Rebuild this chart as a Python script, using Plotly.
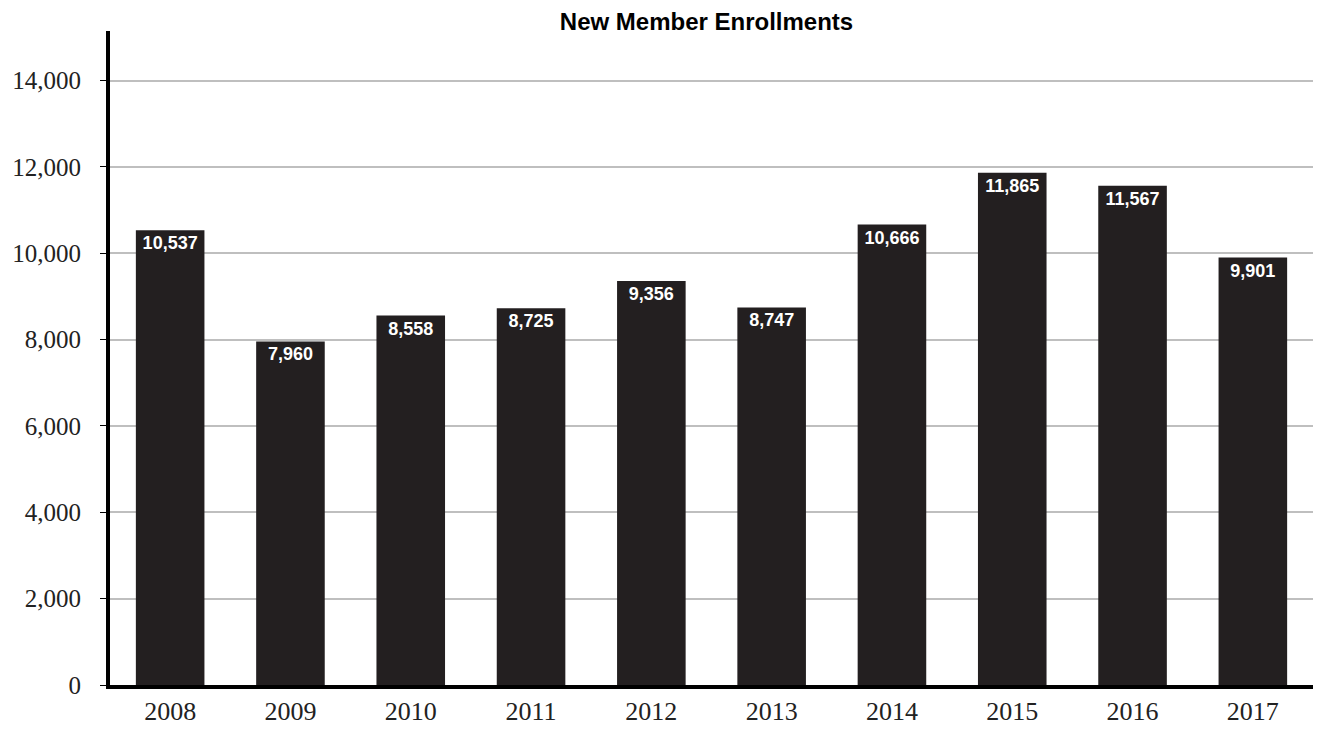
import plotly.graph_objects as go

years = ["2008", "2009", "2010", "2011", "2012", "2013", "2014", "2015", "2016", "2017"]
enrollments = [10537, 7960, 8558, 8725, 9356, 8747, 10666, 11865, 11567, 9901]
tick_vals = [0, 2000, 4000, 6000, 8000, 10000, 12000, 14000]
tick_text = ["0", "2,000", "4,000", "6,000", "8,000", "10,000", "12,000", "14,000"]

fig = go.Figure()
fig.add_trace(go.Bar(
    x=years, y=enrollments,
    marker=dict(color="#231f20", line=dict(width=0)),
    text=[f"{v:,}" for v in enrollments],
    textposition="inside", insidetextanchor="end",
    textangle=0,
    insidetextfont=dict(family="Liberation Sans, Arial", size=18, color="white", weight="bold"),
    cliponaxis=False,
))

fig.update_layout(
    width=1313, height=721,
    margin=dict(l=102, r=8, t=23, b=44, autoexpand=False),
    paper_bgcolor="white", plot_bgcolor="white",
    bargap=0.43,
    showlegend=False,
    title=dict(text="<b>New Member Enrollments</b>", x=0.5 - 5 / 1203, xanchor="center", xref="paper",
               y=1 - 5 / 721, yanchor="top", yref="container", pad=dict(t=0, b=0),
               font=dict(family="Liberation Sans, Arial", size=24, color="black")),
    xaxis=dict(
        type="category",
        automargin=False,
        showline=True, linecolor="black", linewidth=4,
        ticks="", showgrid=False,
        tickfont=dict(family="Liberation Serif, Times New Roman", size=26, color="#222"),
    ),
    yaxis=dict(
        range=[0, 15150],
        automargin=False,
        tickvals=tick_vals, ticktext=tick_text,
        showline=True, linecolor="black", linewidth=4,
        ticks="outside", ticklen=6, tickcolor="black", tickwidth=1,
        ticklabelstandoff=14,
        showgrid=True, gridcolor="#bfbfbf", gridwidth=2,
        zeroline=False,
        tickfont=dict(family="Liberation Serif, Times New Roman", size=25, color="#222"),
    ),
)

fig.write_html("out.html")
